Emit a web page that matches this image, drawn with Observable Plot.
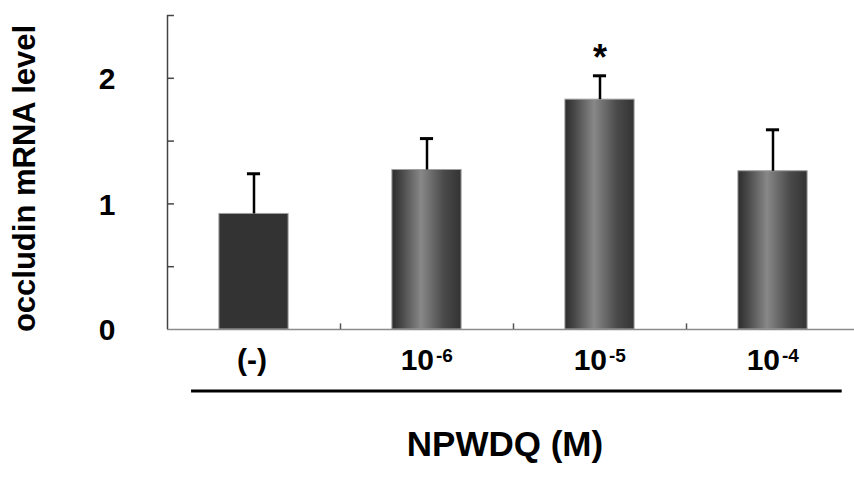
<!DOCTYPE html>
<html><head><meta charset="utf-8">
<script src="https://cdn.jsdelivr.net/npm/d3@7"></script>
<script src="https://cdn.jsdelivr.net/npm/@observablehq/plot@0.6"></script>
<style>body{margin:0;background:#fff} svg{display:block}</style>
</head><body><div id="chart"></div>
<script>
const categories = ["(-)", "10", "10", "10"];
const exponents = ["", "-6", "-5", "-4"];
const means = [0.92, 1.27, 1.83, 1.26];
const sds = [0.32, 0.25, 0.19, 0.33];
const significance = ["", "", "*", ""];
const yLabelTicks = [0, 1, 2];
const yMarkTicks = [0.5, 1, 1.5, 2, 2.5];
const separators = [0.5, 1.5, 2.5];
const xTitle = "NPWDQ (M)";
const yTitle = "occludin mRNA level";

const data = categories.map((c, i) => ({
  i, c, exp: exponents[i], mean: means[i], top: means[i] + sds[i],
  sig: significance[i], control: i === 0
}));
const font = "Arial, 'Liberation Sans', sans-serif";
const barHalf = 0.2, capHalf = 0.038;

const chart = Plot.plot({
  width: 854, height: 478,
  marginLeft: 167, marginRight: 0, marginTop: 15, marginBottom: 149,
  style: `font-family: ${font}; font-weight: bold; background: #fff; overflow: visible;`,
  x: {domain: [-0.5, 3.5], range: [167, 859], axis: null},
  y: {domain: [0, 2.5], axis: null},
  marks: [
    Plot.rectY(data.filter(d => d.control), {x1: d => d.i - barHalf, x2: d => d.i + barHalf, y1: 0, y2: "mean", fill: "#333", stroke: "#a0a0a0", strokeWidth: 1}),
    Plot.rectY(data.filter(d => !d.control), {x1: d => d.i - barHalf, x2: d => d.i + barHalf, y1: 0, y2: "mean", fill: "url(#barGrad)", stroke: "#a0a0a0", strokeWidth: 1}),
    Plot.ruleX(data, {x: "i", y1: "mean", y2: "top", stroke: "#000", strokeWidth: 2.5}),
    Plot.ruleY(data, {y: "top", x1: d => d.i - capHalf, x2: d => d.i + capHalf, stroke: "#000", strokeWidth: 3}),
    Plot.text(data, {x: "i", y: "top", text: "sig", fontSize: 36, fontWeight: "bold", lineAnchor: "middle", dy: -17}),
    Plot.ruleY([0], {stroke: "#8c8c8c", strokeWidth: 1.5}),
    Plot.ruleX([-0.5], {y1: 0, y2: 2.5, stroke: "#444", strokeWidth: 1.5}),
    Plot.ruleY(yMarkTicks, {x1: -0.5, x2: -0.46, stroke: "#444", strokeWidth: 1.5}),
    Plot.ruleX(separators, {y1: 0, y2: 0.045, stroke: "#555", strokeWidth: 1.5}),
    Plot.text(yLabelTicks, {y: d => d, text: d => String(d), frameAnchor: "left", textAnchor: "end", lineAnchor: "middle", dx: -52, dy: 1, fontSize: 30, fontWeight: "bold"}),
    Plot.text(data.filter(d => d.control), {x: "i", text: "c", frameAnchor: "bottom", textAnchor: "middle", lineAnchor: "middle", dy: 31, dx: -2, fontSize: 30, fontWeight: "bold"}),
    Plot.text(data.filter(d => !d.control), {x: "i", text: "c", frameAnchor: "bottom", textAnchor: "end", lineAnchor: "middle", dx: 7, dy: 31, fontSize: 30, fontWeight: "bold"}),
    Plot.text(data.filter(d => !d.control), {x: "i", text: "exp", frameAnchor: "bottom", textAnchor: "start", lineAnchor: "middle", dx: 9, dy: 26, fontSize: 19, fontWeight: "bold"}),
    Plot.ruleY([-0.49], {x1: -0.361, x2: 3.40, stroke: "#000", strokeWidth: 3}),
    Plot.text([xTitle], {frameAnchor: "bottom", textAnchor: "middle", lineAnchor: "middle", dx: -6, dy: 115, fontSize: 35, fontWeight: "bold"}),
    Plot.text([yTitle], {frameAnchor: "left", textAnchor: "middle", lineAnchor: "middle", rotate: -90, dx: -142, dy: 6, fontSize: 31, fontWeight: "bold"})
  ]
});

const svg = chart.tagName.toLowerCase() === "svg" ? chart : chart.querySelector("svg");
const ns = "http://www.w3.org/2000/svg";
const defs = document.createElementNS(ns, "defs");
defs.innerHTML = `<linearGradient id="barGrad" x1="0" x2="1" y1="0" y2="0">
  <stop offset="0" stop-color="#2c2c2c"/>
  <stop offset="0.15" stop-color="#4a4a4a"/>
  <stop offset="0.42" stop-color="#888888"/>
  <stop offset="0.75" stop-color="#4a4a4a"/>
  <stop offset="1" stop-color="#333333"/>
</linearGradient>`;
svg.insertBefore(defs, svg.firstChild);
document.getElementById("chart").appendChild(chart);
</script>
</body></html>
